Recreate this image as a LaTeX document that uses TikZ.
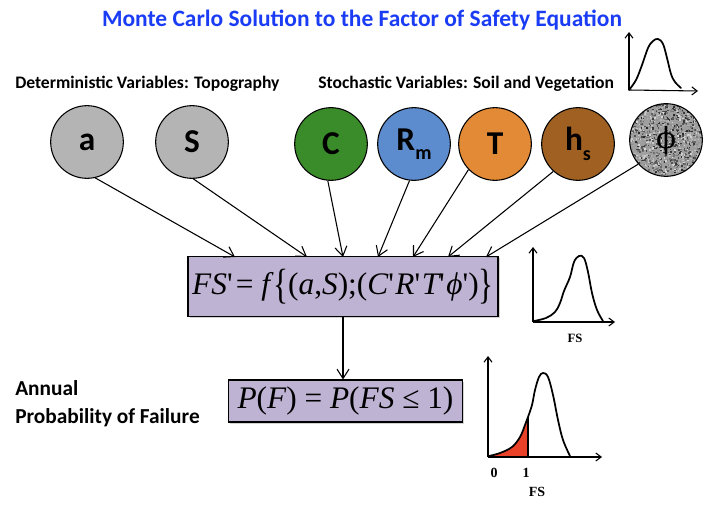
\documentclass[tikz,border=0pt]{standalone}
\usepackage{fontspec}
\usepackage{graphicx}
\setmainfont{Carlito}
\newfontfamily\tms{Liberation Serif}
\newfontfamily\dvs{DejaVu Serif}
\usetikzlibrary{arrows.meta,shadows}
\definecolor{titleblue}{RGB}{26,60,245}
\definecolor{cgray}{RGB}{180,180,180}
\definecolor{cgreen}{RGB}{58,140,42}
\definecolor{cblue}{RGB}{92,140,206}
\definecolor{corange}{RGB}{226,138,54}
\definecolor{cbrown}{RGB}{160,96,34}
\definecolor{boxfill}{RGB}{190,179,211}
\definecolor{fsred}{RGB}{234,66,40}
\begin{document}
\begin{tikzpicture}[x=0.75pt,y=-0.75pt,
  varc/.style={circle,draw=black,line width=0.8pt,minimum size=54.5pt,inner sep=0pt,
     font=\fontsize{25}{28}\selectfont\bfseries},
  fbox/.style={draw=black,line width=0.8pt,fill=boxfill,inner sep=0pt,
     drop shadow={shadow xshift=1.2pt,shadow yshift=-1.2pt,opacity=0.35}},
  conn/.style={-{Straight Barb[length=7pt,width=9pt]},line width=0.8pt},
  axis/.style={-{Straight Barb[length=4pt,width=6pt]},line width=0.8pt},
  curve/.style={line width=1.3pt,line cap=round,line join=round},
  hdr/.style={font=\fontsize{13.2}{15}\selectfont\bfseries,anchor=west,inner sep=0pt}]
\useasboundingbox (0,0) rectangle (723,505);

% title and headers
\node[font=\fontsize{17.6}{21}\selectfont\bfseries,text=titleblue] (title) at (362,20) {Monte Carlo Solution to the Factor of Safety Equation};
\node[hdr] (det) at (15,84) {Deterministic Variables: Topography};
\node[hdr] (sto) at (318,84) {Stochastic Variables: Soil and Vegetation};

% variable circles
\node[varc,fill=cgray] (a) at (87,142) {a};
\node[varc,fill=cgray] (S) at (192,142) {S};
\node[varc,fill=cgreen] (C) at (331,144) {C};
\node[varc,fill=cblue] (Rm) at (414,144) {R\raisebox{-0.28em}{\fontsize{15}{17}\selectfont m}};
\node[varc,fill=corange] (T) at (495,144) {T};
\node[varc,fill=cbrown] (hs) at (578,144) {h\raisebox{-0.28em}{\fontsize{15}{17}\selectfont s}};

% phi circle with noise texture
\begin{scope}
  \clip (666,140) circle (36.3);
  \fill[black!38] (626,100) rectangle (706,180);
  \pgfmathsetseed{7}
  \foreach \i in {1,...,1400}{
    \pgfmathsetmacro\rx{666+rand*37}
    \pgfmathsetmacro\ry{140+rand*37}
    \pgfmathsetmacro\gg{int(15+70*rnd)}
    \fill[black!\gg] (\rx,\ry) rectangle ++(1.6,1.6);
  }
\end{scope}
\node[varc] (phi) at (666,140) {\dvs\fontsize{22}{24}\selectfont\mdseries ϕ};

% formula boxes
\node[fbox,minimum width=232.5pt,minimum height=44.5pt] (fs) at (343,286.5)
  {\tms\fontsize{23.5}{26}\selectfont\itshape FS\upshape'\kern0.1em= \itshape f\kern0.1em\upshape\raisebox{-0.12em}{\scalebox{1}[1.35]{\{}}(\itshape a\upshape,\itshape S\upshape);(\itshape C\upshape'\kern0.05em\itshape R\upshape'\kern0.05em\itshape T\upshape'\kern0.05em\itshape ϕ\upshape')\raisebox{-0.12em}{\scalebox{1}[1.35]{\}}}};
\node[fbox,minimum width=176pt,minimum height=31.5pt] (pf) at (345.5,401)
  {\tms\fontsize{23.5}{26}\selectfont\itshape P\upshape(\itshape F\upshape) = \itshape P\upshape(\itshape FS \upshape≤ 1)};

% connectors to formula
\coordinate (t1) at (235,257);
\coordinate (t2) at (307,257);
\coordinate (t3) at (343,257);
\coordinate (t4) at (378,257);
\coordinate (t5) at (413,257);
\coordinate (t6) at (448,257);
\coordinate (t7) at (486,257);
\draw[conn] (a.-77) -- (t1);
\draw[conn] (S.-88) -- (t2);
\draw[conn] (C.-95) -- (t3);
\draw[conn] (Rm.-97) -- (t4);
\draw[conn] (T.-136) -- (t5);
\draw[conn] (hs.-132) -- (t6);
\draw[conn] (phi.-139) -- (t7);
\draw[conn] (fs.south) -- (fs.south |- pf.north);

% annual probability label
\node[font=\fontsize{16}{21}\selectfont\bfseries,align=left,anchor=west,inner sep=0pt] (ann) at (15,404) {Annual\\Probability of Failure};

% graph 1 (top right)
\coordinate (g1o) at (629,90);
\coordinate (g1y) at (629,32);
\coordinate (g1x) at (698,91);
\draw[axis] (g1o) -- (g1y);
\draw[axis] (g1o) -- (g1x);
\draw[curve] plot[smooth,tension=0.6] coordinates {(629,90) (636,80) (642,65) (648,48) (653,41) (658,39) (663,44) (667,58) (671,74) (675,82) (681,88)};

% graph 2 (FS)
\coordinate (g2o) at (533,322);
\coordinate (g2y) at (533,247);
\coordinate (g2x) at (615,322);
\draw[axis] (g2o) -- (g2y);
\draw[axis] (g2o) -- (g2x);
\draw[curve] plot[smooth,tension=0.6] coordinates {(534,321) (546,318) (555,312) (560,303) (564,291) (570,277) (574,262) (579,256) (584,258) (588,272) (592,293) (597,310) (603,321)};
\node[font=\tms\fontsize{9.5}{11}\selectfont\bfseries] (fs2) at (575,338) {FS};

% graph 3 (probability of failure)
\coordinate (g3o) at (488,457);
\coordinate (g3y) at (488,356);
\coordinate (g3x) at (602,457);
\fill[fsred] plot[smooth,tension=0.6] coordinates {(489,456) (500,453) (512,447) (520,437) (525,425) (528,417)} -- (528,457) -- (489,457) -- cycle;
\draw[line width=0.8pt] (528,417) -- (528,457);
\draw[axis] (g3o) -- (g3y);
\draw[axis] (g3o) -- (g3x);
\draw[curve] plot[smooth,tension=0.6] coordinates {(489,456) (500,453) (512,447) (520,437) (525,425) (528,417) (532,405) (535,390) (539,377) (543,373) (548,377) (553,395) (558,420) (563,440) (570,456)};
\node[font=\tms\fontsize{10.5}{12}\selectfont\bfseries] (l0) at (494,473) {0};
\node[font=\tms\fontsize{10.5}{12}\selectfont\bfseries] (l1) at (526,473) {1};
\node[font=\tms\fontsize{10.5}{12}\selectfont\bfseries] (fs3) at (537,492) {FS};
\end{tikzpicture}
\end{document}
